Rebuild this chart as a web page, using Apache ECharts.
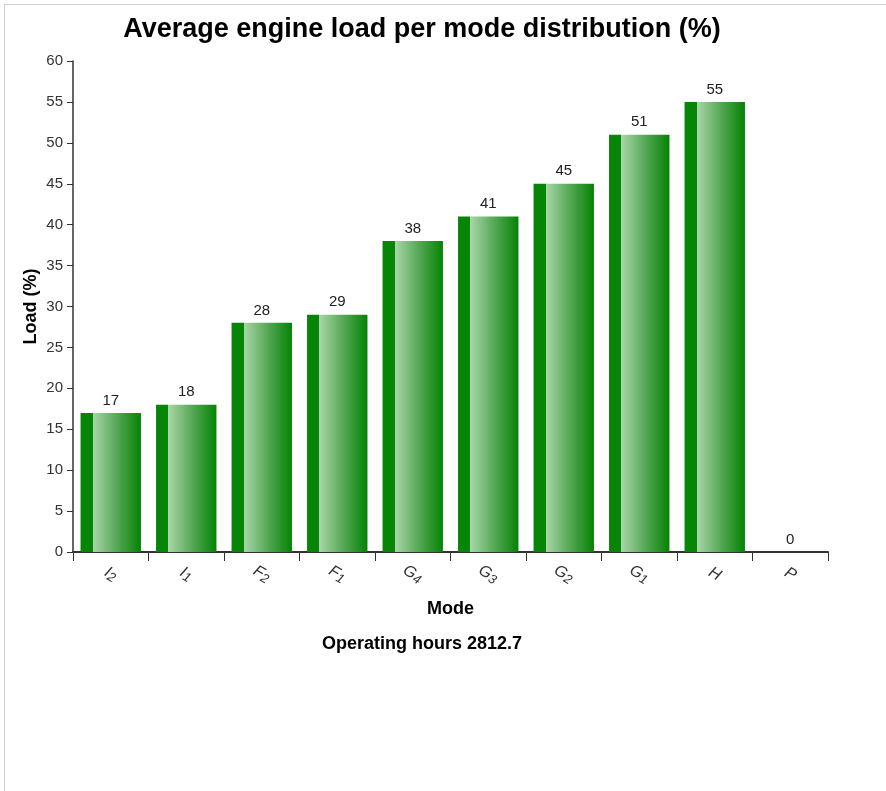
<!DOCTYPE html>
<html>
<head>
<meta charset="utf-8">
<script src="https://cdn.jsdelivr.net/npm/echarts@6/dist/echarts.min.js"></script>
<style>
html,body{margin:0;padding:0;background:#fff;}
#frame{position:absolute;left:4px;top:4px;width:900px;height:800px;border-left:1px solid #cfcfcf;border-top:1px solid #cfcfcf;}
#chart{position:absolute;left:0;top:0;width:886px;height:791px;}
</style>
</head>
<body>
<div id="frame"></div>
<div id="chart"></div>
<script>
const titleText = 'Average engine load per mode distribution (%)';
const subText = 'Operating hours 2812.7';
const modeBase = ['I', 'I', 'F', 'F', 'G', 'G', 'G', 'G', 'H', 'P'];
const modeSub = ['2', '1', '2', '1', '4', '3', '2', '1', '', ''];
const loads = [17, 18, 28, 29, 38, 41, 45, 51, 55, 0];
const yTicks = [0, 60, 5];

const categories = modeBase.map((b, i) => b + modeSub[i]);

const chart = echarts.init(document.getElementById('chart'), null, {renderer: 'canvas'});
const font = 'Liberation Sans, Arial, sans-serif';

chart.setOption({
  animation: false,
  backgroundColor: 'transparent',
  title: [
    {text: titleText, left: 417, top: 11, textAlign: 'center',
     textStyle: {fontFamily: font, fontSize: 27, fontWeight: 'bold', color: '#000'}},
    {text: subText, left: 417, top: 630, textAlign: 'center',
     textStyle: {fontFamily: font, fontSize: 18, fontWeight: 'bold', color: '#000'}}
  ],
  grid: {left: 73, right: 58, top: 61, bottom: 239, containLabel: false},
  xAxis: {
    type: 'category',
    data: categories,
    name: 'Mode',
    nameLocation: 'middle',
    nameGap: 48,
    nameMoveOverlap: false,
    nameTextStyle: {fontFamily: font, fontSize: 18, fontWeight: 'bold', color: '#000'},
    axisLine: {lineStyle: {color: '#333', width: 2}},
    axisTick: {show: true, alignWithLabel: false, length: 9, lineStyle: {color: '#333', width: 1}},
    axisLabel: {
      rotate: -30,
      margin: 22,
      align: 'center',
      verticalAlign: 'middle',
      interval: 0,
      color: '#333',
      formatter: function (v, i) {
        return '{b|' + modeBase[i] + '}' + (modeSub[i] ? '{s|' + modeSub[i] + '}' : '');
      },
      rich: {
        b: {fontFamily: font, fontSize: 16, fontStyle: 'italic', color: '#333', lineHeight: 19},
        s: {fontFamily: font, fontSize: 13, fontStyle: 'italic', color: '#333', padding: [4, 0, 0, 0], verticalAlign: 'bottom'}
      }
    },
    splitLine: {show: false}
  },
  yAxis: {
    type: 'value',
    min: yTicks[0],
    max: yTicks[1],
    interval: yTicks[2],
    name: 'Load (%)',
    nameLocation: 'middle',
    nameGap: 33,
    nameMoveOverlap: false,
    nameRotate: 90,
    nameTextStyle: {fontFamily: font, fontSize: 18, fontWeight: 'bold', color: '#000'},
    axisLine: {show: true, lineStyle: {color: '#333', width: 1.5}},
    axisTick: {show: true, length: 6, lineStyle: {color: '#333'}},
    axisLabel: {fontFamily: font, fontSize: 15, color: '#333', margin: 10},
    splitLine: {show: false}
  },
  series: [{
    type: 'bar',
    data: loads,
    barCategoryGap: '20%',
    itemStyle: {
      color: new echarts.graphic.LinearGradient(0, 0, 1, 0, [
        {offset: 0, color: '#078507'},
        {offset: 0.2, color: '#078507'},
        {offset: 0.2, color: '#a9d6a9'},
        {offset: 0.6, color: '#55a855'},
        {offset: 1, color: '#048304'}
      ]),
      borderWidth: 0
    },
    label: {
      show: true,
      position: 'top',
      distance: 5,
      fontFamily: font,
      fontSize: 15,
      color: '#222'
    }
  }]
});
</script>
</body>
</html>
